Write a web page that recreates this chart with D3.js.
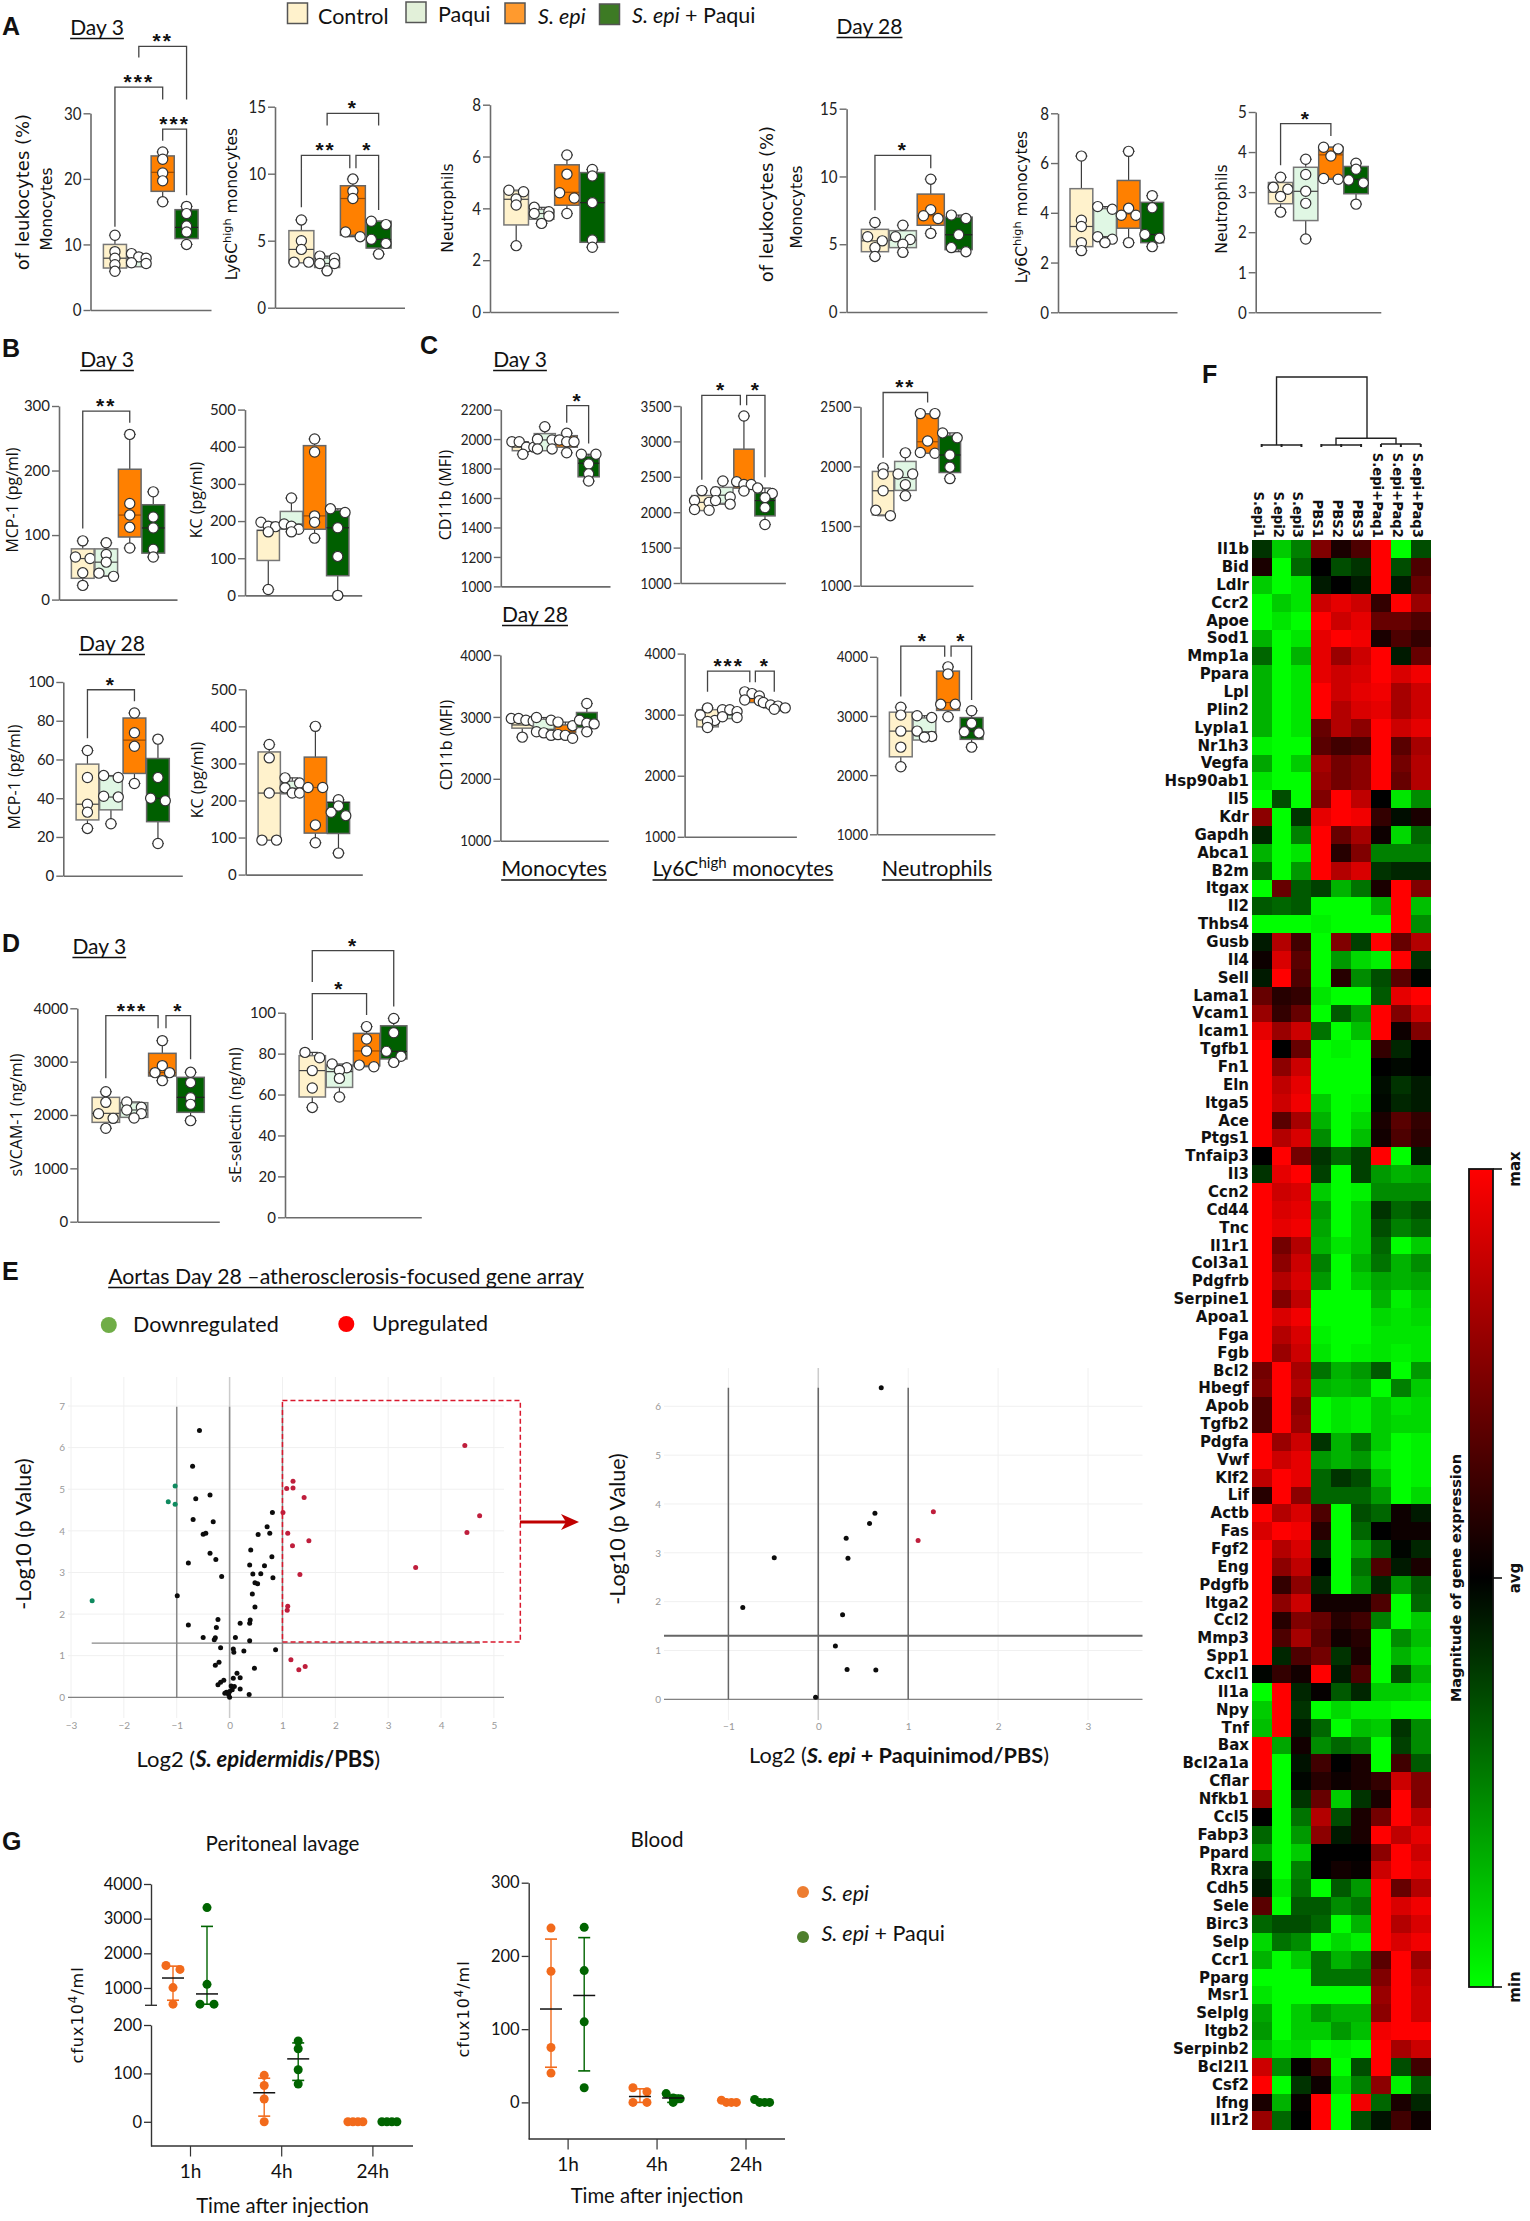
<!DOCTYPE html>
<html><head><meta charset="utf-8">
<script src="https://cdn.jsdelivr.net/npm/d3@7/dist/d3.min.js"></script>
<style>html,body{margin:0;padding:0;background:#fff}svg{display:block}</style></head>
<body><svg id="c" width="1530" height="2221" xmlns="http://www.w3.org/2000/svg"></svg>
<script>
// ---------- shared categories ----------
const groups = ["Control","Paqui","S. epi","S. epi + Paqui"];
const groupColors = ["#fff2cc","#e0f7e4","#ff8000","#005f00"];
const legendColors = ["#fff2cc","#e2f0d9","#ff9a2e","#3d7a24"];

// ---------- panel A, day 3 ----------
const aMonoD3Pts = [[11.4,8.9,7.9,6.9,5.9],[8.6,8.1,7.9,7.2,7.1],[24.1,23,20.9,19.7,16.5],[15.8,14.7,12.8,11.9,10]];
const aMonoD3Box = [[6.4,7.9,10],[6.6,7.4,8.2],[18.1,21,23.5],[10.9,12.6,15.3]];
const aLyD3Pts = [[6.55,5,4.35,3.4,3.4],[3.85,3.7,3.3,3.3,2.75],[9.6,8.7,8.15,5.65,5.3],[6.45,6.2,5.1,4.8,4]];
const aLyD3Box = [[3.35,4.35,5.75],[3,3.3,3.7],[5.4,8.15,9.1],[4.45,5.1,6.45]];
const aNeuD3Pts = [[4.7,4.64,4.36,4.13,2.56],[4.04,3.87,3.8,3.7,3.42],[6.06,5.32,4.6,4.4,3.8],[5.5,5.25,4.22,2.78,2.5]];
const aNeuD3Box = [[3.36,4.35,4.68],[3.58,3.8,3.96],[4.12,4.62,5.68],[2.69,4.22,5.38]];
// ---------- panel A, day 28 ----------
const aMonoD28Pts = [[6.6,5.55,5.25,4.75,4.1],[6.4,5.55,5.35,5,4.4],[9.8,7.55,7.1,6.9,5.8],[7.15,6.9,5.7,4.75,4.45]];
const aMonoD28Box = [[4.45,5.25,6.1],[4.75,5.3,6],[6.4,7.1,8.7],[4.6,5.7,7]];
const aLyD28Pts = [[6.28,3.7,3.45,2.8,2.48],[4.25,4.14,3.04,2.94,2.8],[6.47,4.18,3.9,3.9,2.8],[4.69,4.2,3.13,2.98,2.64]];
const aLyD28Box = [[2.64,3.45,4.97],[3.04,3.04,4.17],[3.38,3.95,5.3],[2.8,3.13,4.42]];
const aNeuD28Pts = [[3.37,3.12,3.07,2.89,2.5],[3.82,3.44,3.02,2.72,1.83],[4.12,4.08,3.9,3.34,3.32],[3.72,3.57,3.3,3.23,2.7]];
const aNeuD28Box = [[2.71,3,3.24],[2.29,3.02,3.62],[3.34,3.93,4.12],[2.96,3.32,3.64]];
// ---------- panel B ----------
const bMcpD3Pts = [[91,66,63.6,41.5,22],[88,70,58,41,36],[256,149,131,112,80],[167,128,111,78,66]];
const bMcpD3Box = [[33,63.6,78.6],[37,58,78.6],[97,131,202],[72,111,147]];
const bKcD3Pts = [[197,186,185,171,16],[262,192,186,178,171],[421,386,214,197,154],[233,223,182,105,0]];
const bKcD3Box = [[94,175,175],[178,192,226],[178,214,403],[53,182,229]];
const bMcpD28Pts = [[64.6,50.7,36.9,32.8,24.4],[51.7,50.7,41,40.6,26.8],[84,73.8,66.8,47.6],[70.5,50.7,40,38.7,16.6]];
const bMcpD28Box = [[28.8,36.9,57.6],[34,40.6,51.3],[52.8,70,81.4],[27.9,40,60.5]];
const bKcD28Pts = [[351,315,220,93,93],[261,247,234,220,220],[400,235,235,134,86],[202,185,168,159,58]];
const bKcD28Box = [[93,220,331],[218,233,252],[112,235,317],[111,195,195]];
// ---------- panel C ----------
const cMonoD3Pts = [[1982,1982,1945,1945,1897],[2084,1999,1994,1933,1933],[2040,1994,1982,1982,1907],[1897,1897,1831,1764,1715]];
const cMonoD3Box = [[1921,1945,1962],[1921,1994,2037],[1945,1965,2023],[1744,1836,1885]];
const cLyD3Pts = [[2305,2164,2139,2038,2028],[2441,2290,2215,2164,2114],[3359,2431,2391,2391,2300],[2341,2265,2205,2063,1826]];
const cLyD3Box = [[2023,2139,2235],[2124,2240,2351],[2340,2441,2890],[1948,2164,2275]];
const cNeuD3Pts = [[1988,1937,1796,1632,1587],[2114,1937,1937,1847,1754],[2443,2443,2213,2117,2111],[2281,2240,2096,1994,1898]];
const cNeuD3Box = [[1593,1796,1958],[1799,1907,2042],[2111,2207,2440],[1949,2096,2260]];
const cMonoD28Pts = [[2973,2973,2945,2933,2673],[2990,2945,2760,2742,2702],[2916,2858,2714,2702,2656],[3216,2945,2898,2887,2760]];
const cMonoD28Box = [[2818,2870,2973],[2742,2800,2962],[2742,2760,2870],[2829,2945,3071]];
const cLyD28Pts = [[3111,2994,2906,2889,2789],[3082,3082,3050,2965,2953],[3374,3345,3305,3240,3228],[3199,3158,3140,3111,3088]];
const cLyD28Box = [[2801,2936,3082],[2936,2994,3041],[3199,3287,3345],[3111,3140,3170]];
const cNeuD28Pts = [[3148,3015,2744,2473,2141],[3004,2973,2744,2654,2642],[3830,3710,3197,3197,2986],[3088,2877,2732,2714,2473]];
const cNeuD28Box = [[2310,2744,3064],[2593,2732,2967],[3094,3227,3758],[2605,2744,2973]];
// ---------- panel D ----------
const dVcamPts = [[2437,2237,2025,1937,1750],[2244,2144,2094,2025,1944],[3394,2925,2794,2794,2644],[2800,2606,2325,2200,1894]];
const dVcamBox = [[1862,2031,2331],[1956,2094,2231],[2731,2794,3156],[2050,2331,2706]];
const dSelPts = [[80.6,78,71.7,63.2,53.7],[74.9,73.1,71.8,67.9,58.8],[93.2,87.1,81.3,74.4,73.6],[97.2,90.2,81.1,78.7,75.7]];
const dSelBox = [[58.8,71.7,79],[63.5,71.2,74.4],[74,81.3,89.9],[77.4,81.1,93.6]];
// ---------- panel E ----------
const volcano1Black = [[-0.57,6.41],[-0.70,5.55],[-0.37,4.86],[-0.64,4.77],[-0.69,4.27],[-0.31,4.22],[0.81,4.44],[0.71,4.10],[0.76,3.94],[0.54,3.91],[-0.50,3.92],[-0.45,3.94],[0.40,3.54],[-0.37,3.46],[-0.26,3.31],[-0.78,3.23],[0.80,3.38],[0.38,3.18],[0.66,3.16],[0.44,2.96],[0.59,2.97],[-0.15,2.90],[0.82,2.87],[0.48,2.75],[0.53,2.73],[0.43,2.48],[-0.99,2.44],[0.48,2.17],[-0.22,1.87],[0.39,1.86],[0.38,1.78],[0.20,1.78],[-0.78,1.74],[-0.25,1.68],[-0.50,1.44],[-0.27,1.43],[-0.29,1.38],[0.11,1.44],[0.38,1.36],[-0.17,1.19],[0.07,1.16],[0.08,1.08],[0.27,1.11],[0.87,1.14],[-0.20,0.84],[-0.27,0.77],[0.47,0.70],[0.14,0.58],[0.20,0.47],[0.07,0.46],[-0.11,0.41],[-0.17,0.36],[-0.22,0.30],[0.03,0.27],[0.09,0.26],[0.05,0.18],[0.20,0.20],[-0.06,0.12],[0,0.14],[-0.09,0.10],[-0.02,0.07],[0.37,0.07],[0,0]];
const volcano1Red = [[4.45,6.05],[1.20,5.19],[1.08,5.02],[1.20,5.03],[1.41,4.80],[1.01,4.44],[4.73,4.36],[1.10,3.94],[4.49,3.96],[1.50,3.76],[1.19,3.64],[3.52,3.12],[1.33,2.95],[1.10,2.19],[1.09,2.09],[1.16,0.90],[1.43,0.74],[1.31,0.66]];
const volcano1Green = [[-1.03,5.08],[-1.16,4.70],[-1.03,4.64],[-2.60,2.32]];
const volcano2Black = [[0.70,6.38],[0.63,3.81],[0.57,3.60],[0.31,3.30],[-0.49,2.90],[0.33,2.89],[-0.84,1.88],[0.27,1.73],[0.19,1.09],[0.32,0.61],[0.64,0.60],[-0.03,0.04]];
const volcano2Red = [[1.28,3.84],[1.11,3.25]];
// ---------- panel G ----------
const times = ["1h","4h","24h"];
const gSeries = ["S. epi","S. epi + Paqui"];
const lavageSepi = [[1650,1535,1010,532],[96,75,47,0],[0,0,0,0]];
const lavageBoth = [[3320,1105,532,532],[167,151,107.6,78],[0,0,0,0]];
const lavageSepiSum = [[1287,646,1630],[60,11.7,90],null];
const lavageBothSum = [[828,532,2777],[130,85.5,163],null];
const bloodSepi = [[238,179,75,40],[20,14.5,0,0],[3,0,0,0]];
const bloodBoth = [[239,180,110,20],[12,6,5,0],[4,0,0,0]];
const bloodSepiSum = [[127.5,48,223],[8,0,18.5],null];
const bloodBothSum = [[146,43,225],[6,0,10],null];
// ---------- panel F ----------
const heatCols = ["S.epi1","S.epi2","S.epi3","PBS1","PBS2","PBS3","S.epi+Paq1","S.epi+Paq2","S.epi+Paq3"];
const heatGenes = ["Il1b","Bid","Ldlr","Ccr2","Apoe","Sod1","Mmp1a","Ppara","Lpl","Plin2","Lypla1","Nr1h3","Vegfa","Hsp90ab1","Il5","Kdr","Gapdh","Abca1","B2m","Itgax","Il2","Thbs4","Gusb","Il4","Sell","Lama1","Vcam1","Icam1","Tgfb1","Fn1","Eln","Itga5","Ace","Ptgs1","Tnfaip3","Il3","Ccn2","Cd44","Tnc","Il1r1","Col3a1","Pdgfrb","Serpine1","Apoa1","Fga","Fgb","Bcl2","Hbegf","Apob","Tgfb2","Pdgfa","Vwf","Klf2","Lif","Actb","Fas","Fgf2","Eng","Pdgfb","Itga2","Ccl2","Mmp3","Spp1","Cxcl1","Il1a","Npy","Tnf","Bax","Bcl2a1a","Cflar","Nfkb1","Ccl5","Fabp3","Ppard","Rxra","Cdh5","Sele","Birc3","Selp","Ccr1","Pparg","Msr1","Selplg","Itgb2","Serpinb2","Bcl2l1","Csf2","Ifng","Il1r2"];
const heatValues = [
[-2,-8,-5,5,1,3,10,-10,-3],[1,-10,-4,0,-3,-2,10,-3,3],[-8,-10,-9,-1,0,-1,10,-1,4],[-10,-8,-9,8,9,8,2,10,6],[-10,-9,-10,10,8,9,4,4,3],
[-7,-10,-9,9,10,9.5,1,3,2],[-4,-10,-7,9,6,8,10,-1,4],[-7,-10,-9,9,8,8.5,10,8.5,9.5],[-7,-10,-9,10,8,9,9.5,6.5,8],[-7,-10,-9,10,7,8.5,9,6.5,8],
[-7,-10,-9,4,7,5.5,10,8,9],[-9.5,-10,-10,3.5,2.5,3,10,3.5,6.5],[-6.5,-10,-8,6.5,4.5,5.5,10,4.5,7],[-9,-10,-10,6,4.5,5.5,10,4,7],[-10,-3,-10,5,10,7.5,0,-9,-5.5],
[5.5,-10,-2,9,10,9.5,2,-0.5,1],[-1.5,-10,-5,10,4,6.5,0.5,-8.5,-4],[-7,-10,-9,10,1.5,5,-5,-5,-5],[-4,-10,-6,10,7,8.5,-2,-1.5,-1.5],[-10,4,-3.5,-2.5,-7,-4.5,1,10,5],
[-3.5,-4,-3.5,-10,-10,-10,-7,10,-7.5],[-10,-10,-10,-9.5,-10,-10,-10,10,-5.5],[-1,7,2.5,-10,5,-2.5,10,4,7],[0.5,8.5,3.5,-10,-6,-8.5,-9.5,10,-2],[-1,10,3,-10,1.5,-5.5,-3,3.5,-0.2],
[4,1.5,2,-9,-10,-10,-3.5,9,10],[6,2,4,-10,-3.5,-6,10,5,8],[9,6,8,-4.5,-10,-7.5,10,0.5,5],[10,0,4,-10,-9.5,-10,2,-1.5,0],[10,5.5,8,-10,-10,-10,0,-0.3,0],
[10,7.5,9,-10,-10,-10,-0.5,-2,-1],[10,8,9.5,-8,-10,-9.5,-0.3,-1.5,-1],[10,3.5,6.5,-7,-10,-8.5,1,3.5,2],[10,7,8.5,-5.5,-10,-7.5,0.7,3,1.7],[0,10,4.5,-2,-4,-2.5,10,-10,-1],
[-2,9,10,-2.5,-10,-2.5,-6,-7,-6.5],[10,8,8.5,-8,-10,-9.5,-5.5,-5.5,-5.5],[10,8.5,9,-6,-10,-8,-2,-4,-3],[10,9,9.5,-6.5,-10,-8,-3,-5,-4],[10,4.5,7,-7,-9,-8,-4,-10,-8],
[10,5.5,8,-5,-10,-7,-4.5,-7,-5.5],[10,7,8.5,-6,-10,-8,-6.5,-7,-6.5],[10,5,7.5,-10,-10,-10,-7,-9.5,-8],[10,8.5,9.5,-10,-10,-10,-8.5,-9,-8.5],[10,7,8.5,-9.5,-10,-10,-9,-9,-9],
[10,6,8,-9,-10,-9.5,-9,-9.5,-9],[4.5,10,6.5,-4.5,-7,-6,-3.5,-10,-6],[5,10,7,-7,-7.5,-7,-10,-5,-8],[3,10,5.5,-10,-9,-9.5,-8,-9,-8.5],[3,10,6,-10,-9,-9.5,-8,-8.5,-8.5],
[10,6,8,-2,-7,-4.5,-8,-10,-9.5],[10,8,9,-6,-7,-6,-9,-10,-9.5],[7.5,10,9,-4,-2,-3,-7.5,-10,-9.5],[1.5,10,5.5,-4,-4,-4,-6,-10,-8.5],[10,7,8.5,3,-10,-3,-4,0.5,-1],
[8.5,10,9.5,1.5,-10,-4,0,0.5,0.5],[10,7,8.5,-2,-10,-6.5,-3.5,-0.2,-1.5],[10,5.5,7.5,0,-10,-4.5,3,-1,1],[10,2,5.5,-1.5,-10,-5.5,-1.5,-6,-3.5],[10,5.5,8,0.7,0.7,0.7,3,-10,-4],
[10,1.5,5,4,1.5,2.5,-5,-10,-8],[10,3,6.5,3.5,0.7,1.5,-10,-5.5,-7.5],[10,-1.5,3,4.5,-2,1,-10,-7,-8.5],[-0.2,2,0.7,10,-1,3,-10,-3,-7],[-10,10,-1.5,0.2,-3.5,-1.5,-8,-8,-8.5],
[-8,10,-2,-10,-8.5,-9.5,-9.5,-10,-10],[-7.5,10,-1,-4,-10,-7.5,-8,-2,-5.5],[10,-6.5,0.7,-5.5,-4,-5,-10,-2.5,-5.5],[10,-10,-0.7,2.5,0,1,-10,2.5,-3.5],[10,-10,-0.2,1.5,0.5,1,2,8,5],
[6,-10,-2,4,-8,-2,1,10,5],[0,-10,-4.5,7,-3,1,4.5,10,7.5],[-4,-10,-6,5.5,-1,1,10,7.5,9],[-6,-10,-8,0,0,0,5.5,10,8],[-2,-10,-5,0,0.7,0.3,8,10,9],
[-1,-9,-4.5,-10,-3.5,-6,10,4,7],[3.5,-10,-3.5,-3.5,-5.5,-4.5,10,8.5,9.5],[-4,-3,-3,-4,-10,-7,10,7,8.5],[-8.5,-4.5,-5.5,-10,-8.5,-9.5,10,8.5,9.5],[-7,-10,-8,-4.5,-7,-5.5,3.5,10,6],
[-10,-10,-10,-4.5,-4.5,-4.5,5,10,7.5],[-9,-10,-10,-10,-10,-10,6,10,8],[-6.5,-10,-8,-6,-7,-7,5.5,10,8],[-6,-10,-8,-8,-6,-7.5,9.5,10,10],[-7.5,-9,-8.5,-10,-9.5,-10,10,6.5,8],
[8,-5.5,0.2,3,-10,-3,10,-3,2.5],[10,-10,-2,0.5,-8.5,-5,5.5,-9.5,-3.5],[1,-7,0.3,10,-10,9.5,-4,1,-1.5],[6,-4,0,10,-10,-3,-0.7,2.5,0.5]];

// ---------- layout (frame: axis x, x-axis end, bottom px, top px; boxes: left, right) ----------
const LATO = "Lato,sans-serif", OPEN = "'Open Sans',sans-serif", DEJA = "'DejaVu Sans',sans-serif";
const panels = [
 {pts:aMonoD3Pts,box:aMonoD3Box,ax:90.5,end:211,y0:310,y1:113.3,dom:[0,30],ticks:[0,10,20,30],bx:[103,198.5],sq:.84,fs:18,
  br:[[0,2,34,12.7,32.1,"***"],[2,3,27.6,25.8,17.5,"***"],[1,3,40.2,38.5,32.1,"**"]]},
 {pts:aLyD3Pts,box:aLyD3Box,ax:275,end:404.5,y0:307.7,y1:106.7,dom:[0,15],ticks:[0,5,10,15],bx:[288.5,391.5],sq:.84,fs:18,
  br:[[0,1.88,11.37,7.5,10.4,"**"],[2.12,3,11.37,10.4,7.3,"*"],[1,3,14.5,13.6,13.6,"*"]]},
 {pts:aNeuD3Pts,box:aNeuD3Box,ax:490,end:618.4,y0:312,y1:104.7,dom:[0,8],ticks:[0,2,4,6,8],bx:[503.5,605],sq:.84,fs:18,br:[]},
 {pts:aMonoD28Pts,box:aMonoD28Box,ax:846.6,end:987,y0:312,y1:108.7,dom:[0,15],ticks:[0,5,10,15],bx:[861,972.6],sq:.84,fs:18,
  br:[[0,2,11.55,7.5,10.6,"*"]]},
 {pts:aLyD28Pts,box:aLyD28Box,ax:1058,end:1177,y0:312.3,y1:113.3,dom:[0,8],ticks:[0,2,4,6,8],bx:[1069.6,1164],sq:.84,fs:18,br:[]},
 {pts:aNeuD28Pts,box:aNeuD28Box,ax:1255.7,end:1380.8,y0:312.3,y1:112,dom:[0,5],ticks:[0,1,2,3,4,5],bx:[1268,1368.6],sq:.84,fs:18,
  br:[[0,2,4.71,3.67,4.4,"*"]]},
 {pts:bMcpD3Pts,box:bMcpD3Box,ax:59,end:177,y0:599.6,y1:406,dom:[0,300],ticks:[0,100,200,300],bx:[71,165],fs:15,
  br:[[0,2,292,110,274,"**"]]},
 {pts:bKcD3Pts,box:bKcD3Box,ax:245,end:361.7,y0:595.4,y1:409.6,dom:[0,500],ticks:[0,100,200,300,400,500],bx:[256.7,349.3],fs:15,br:[]},
 {pts:bMcpD28Pts,box:bMcpD28Box,ax:63.3,end:182.3,y0:875.7,y1:682,dom:[0,100],ticks:[0,20,40,60,80,100],bx:[75.7,169.7],fs:15,
  br:[[0,2,96,71,90,"*"]]},
 {pts:bKcD28Pts,box:bKcD28Box,ax:245.7,end:362.3,y0:874.6,y1:689.3,dom:[0,500],ticks:[0,100,200,300,400,500],bx:[257.7,350],fs:15,br:[]},
 {pts:cMonoD3Pts,box:cMonoD3Box,ax:500.8,end:610,y0:586.4,y1:409.6,dom:[1000,2200],ticks:[1000,1200,1400,1600,1800,2000,2200],bx:[511.9,599.6],sq:.84,fs:16,
  br:[[2,3,2227,2110,1970,"*"]]},
 {pts:cLyD3Pts,box:cLyD3Box,ax:680.6,end:785.4,y0:583,y1:406,dom:[1000,3500],ticks:[1000,1500,2000,2500,3000,3500],bx:[691.3,775.5],sq:.84,fs:16,
  br:[[0,1.83,3651,2457,3510,"*"],[2.13,3,3651,3510,2492,"*"]]},
 {pts:cNeuD3Pts,box:cNeuD3Box,ax:860.5,end:973,y0:585.7,y1:406.8,dom:[1000,2500],ticks:[1000,1500,2000,2500],bx:[872,961],sq:.84,fs:16,
  br:[[0,2,2620,2072,2536,"**"]]},
 {pts:cMonoD28Pts,box:cMonoD28Box,ax:500.4,end:608.3,y0:840.7,y1:655,dom:[1000,4000],ticks:[1000,2000,3000,4000],bx:[511.5,597.6],sq:.84,fs:16,br:[]},
 {pts:cLyD28Pts,box:cLyD28Box,ax:684.6,end:796.4,y0:836.8,y1:653.6,dom:[1000,4000],ticks:[1000,2000,3000,4000],bx:[696.4,785.4],sq:.84,fs:16,
  br:[[0,1.9,3713,3374,3532,"***"],[2.15,3,3713,3532,3374,"*"]]},
 {pts:cNeuD28Pts,box:cNeuD28Box,ax:877,end:994.9,y0:834.3,y1:656.8,dom:[1000,4000],ticks:[1000,2000,3000,4000],bx:[889,983.4],sq:.84,fs:16,
  br:[[0,1.86,4180,3330,4000,"*"],[2.13,3,4180,4000,3269,"*"]]},
 {pts:dVcamPts,box:dVcamBox,ax:77.3,end:219.3,y0:1221.7,y1:1008.3,dom:[0,4000],ticks:[0,1000,2000,3000,4000],bx:[91.7,204.7],fs:15,
  br:[[0,1.85,3862,2687,3625,"***"],[2.13,3,3862,3625,3044,"*"]]},
 {pts:dSelPts,box:dSelBox,ax:285,end:421.3,y0:1217.3,y1:1012.7,dom:[0,100],ticks:[0,20,40,60,80,100],bx:[298.7,407.3],fs:15,
  br:[[0,2,109.3,86.6,98.9,"*"],[0,3,130.3,115,103,"*"]]}
];

const svg = d3.select("#c");
const grey = "#6b6b6b";
function txt(x,y,s,o={}){
  const t = svg.append("text").attr("x",x).attr("y",y).text(s)
    .attr("font-family",o.font||LATO).attr("font-size",o.size||16).attr("fill",o.fill||"#111")
    .attr("text-anchor",o.anchor||"start");
  if(o.weight) t.attr("font-weight",o.weight);
  if(o.italic) t.attr("font-style","italic");
  if(o.rot) t.attr("transform",`rotate(${o.rot} ${x} ${y})`);
  if(o.ls) t.attr("letter-spacing",o.ls);
  return t;
}
function rich(x,y,parts,o={}){
  const t = txt(x,y,"",o);
  parts.forEach(p=>{
    const s = t.append("tspan").text(p.t);
    if(p.italic) s.attr("font-style","italic");
    if(p.bold) s.attr("font-weight","bold");
    if(p.sup) s.attr("dy",-o.size*0.38).attr("font-size",o.size*0.72);
    if(p.down) s.attr("dy",o.size*0.38*(1));
  });
  return t;
}
function underlined(cx,y,s,o={}){
  const t = txt(cx,y,s,{anchor:"middle",...o});
  const w = t.node().getComputedTextLength();
  svg.append("line").attr("x1",cx-w/2).attr("x2",cx+w/2).attr("y1",y+(o.ul||3.5)).attr("y2",y+(o.ul||3.5)).attr("stroke","#111").attr("stroke-width",1.3);
}
function swarmX(vals,y,gap){
  const order = vals.map((v,i)=>i).sort((a,b)=>vals[b]-vals[a]);
  const out = new Array(vals.length).fill(0);
  let i=0;
  while(i<order.length){
    let j=i+1; const first=y(vals[order[i]]);
    while(j<order.length && Math.abs(y(vals[order[j]])-first)<5.5) j++;
    const n=j-i;
    for(let k=0;k<n;k++) out[order[i+k]] = (k-(n-1)/2)*gap*(n===2?2:1);
    i=j;
  }
  return out;
}
function drawPanel(p){
  const g = svg.append("g");
  const y = d3.scaleLinear().domain(p.dom).range([p.y0,p.y1]);
  const x = d3.scaleBand().domain(groups).range(p.bx).padding(0);
  const xEnd = d3.scaleLinear().domain([0,1]).range([p.ax,p.end]);
  const xa = g.append("g").attr("transform",`translate(0,${p.y0})`).call(d3.axisBottom(xEnd).tickValues([]).tickSizeOuter(0));
  xa.select(".domain").attr("stroke",grey).attr("stroke-width",1.6);
  const ya = g.append("g").attr("transform",`translate(${p.ax},0)`).call(d3.axisLeft(y).tickValues(p.ticks).tickSize(7).tickSizeOuter(0).tickPadding(2).tickFormat(d3.format("d")));
  ya.select(".domain").attr("stroke",grey).attr("stroke-width",1.6);
  ya.selectAll(".tick line").attr("stroke",grey).attr("stroke-width",1.4);
  ya.selectAll(".tick text").attr("font-family",LATO).attr("font-size",p.fs).attr("fill","#222");
  if(p.sq) ya.selectAll(".tick text").each(function(){
    const t=d3.select(this); t.attr("textLength",this.getComputedTextLength()*p.sq).attr("lengthAdjust","spacingAndGlyphs");
  });
  const bw = x.bandwidth();
  const cx = i=>x(groups[i])+bw/2;
  groups.forEach((gn,i)=>{
    const pts = p.pts[i], [q1,med,q3] = p.box[i];
    const c = cx(i), lo=d3.min(pts), hi=d3.max(pts);
    const s = g.append("g").attr("stroke","#3d3d3d").attr("stroke-width",1.2);
    s.append("line").attr("x1",c).attr("x2",c).attr("y1",y(lo)).attr("y2",y(hi));
    [lo,hi].forEach(v=>s.append("line").attr("x1",c-6).attr("x2",c+6).attr("y1",y(v)).attr("y2",y(v)));
    s.append("rect").attr("x",x(gn)+.4).attr("width",bw-.8).attr("y",y(q3)).attr("height",y(q1)-y(q3))
      .attr("fill",groupColors[i]).attr("stroke",i<2?"#777":"#666").attr("stroke-width",1.5);
    s.append("line").attr("x1",x(gn)+.4).attr("x2",x(gn)+bw-.4).attr("y1",y(med)).attr("y2",y(med)).attr("stroke",i===2?"#9a4a00":i===3?"#222":"#444");
    const off = swarmX(pts,y,7.3);
    g.selectAll(null).data(pts).join("circle").attr("cx",(d,k)=>c+off[k]).attr("cy",d=>y(d)).attr("r",5.1)
      .attr("fill","#fff").attr("stroke","#333").attr("stroke-width",1.2);
  });
  p.br.forEach(([a,b,top,ea,eb,lab])=>{
    const xa2=cx(0)+a*(cx(1)-cx(0)), xb2=cx(0)+b*(cx(1)-cx(0));
    g.append("path").attr("fill","none").attr("stroke","#444").attr("stroke-width",1.3)
      .attr("d",d3.line()([[xa2,y(ea)],[xa2,y(top)],[xb2,y(top)],[xb2,y(eb)]]));
    g.append("text").attr("x",(xa2+xb2)/2).attr("y",y(top)+2).attr("text-anchor","middle")
      .attr("font-family","'Liberation Sans',sans-serif").attr("font-weight","bold").attr("font-size",21).attr("letter-spacing",2).attr("fill","#111").text(lab);
  });
}
panels.forEach(drawPanel);

// ---- panel letters ----
[["A",2,35],["B",2,357],["C",420,354],["D",2,952],["E",2,1280],["F",1202,383],["G",2,1850]].forEach(([s,x,y])=>txt(x,y,s,{font:"'Liberation Sans',sans-serif",weight:"bold",size:25}));

// ---- legend ----
const legendLayout=[[287.5,3,318,18],[406,2,438,16],[505,3,538,18],[599.5,4,632,17]];
groups.forEach((g,i)=>{
  const [bx,by,tx,ty]=legendLayout[i];
  svg.append("rect").attr("x",bx).attr("y",by).attr("width",20).attr("height",20.5).attr("fill",legendColors[i]).attr("stroke","#555").attr("stroke-width",1.5);
  rich(tx,ty+6,i===2?[{t:"S. epi",italic:true}]:i===3?[{t:"S. epi",italic:true},{t:" + Paqui"}]:[{t:g}],{font:LATO,size:21.5});
});

// ---- day labels ----
[[97,35,"Day 3",21],[869.5,34,"Day 28",21],[107,367,"Day 3",21],[112,651,"Day 28",21],[520,367,"Day 3",21],[535,622,"Day 28",21],[99.3,954,"Day 3",21]]
 .forEach(([x,y,s,z])=>underlined(x,y,s,{font:LATO,size:z}));

// ---- y labels ----
const yl=(x,y,parts,o)=>rich(x,y,parts,{rot:-90,anchor:"middle",...o});
const ly6=[{t:"Ly6C"},{t:"high",sup:true},{t:" monocytes",down:true}];
yl(29,192,[{t:"of leukocytes (%)"}],{font:DEJA,size:18});
yl(52,209,[{t:"Monocytes"}],{font:DEJA,size:15.4});
yl(237,204,ly6,{font:DEJA,size:15.6});
yl(453,208,[{t:"Neutrophils"}],{font:DEJA,size:15.6});
yl(773,204,[{t:"of leukocytes (%)"}],{font:DEJA,size:18});
yl(802,207,[{t:"Monocytes"}],{font:DEJA,size:15.4});
yl(1027,207,ly6,{font:DEJA,size:15.6});
yl(1227,209,[{t:"Neutrophils"}],{font:DEJA,size:15.6});
[[18,500,"MCP-1 (pg/ml)"],[202,500,"KC (pg/ml)"],[20,777,"MCP-1 (pg/ml)"],[203,780,"KC (pg/ml)"],[451,495,"CD11b (MFI)"],[452,745,"CD11b (MFI)"],[22,1115,"sVCAM-1 (ng/ml)"],[241,1115,"sE-selectin (ng/ml)"]]
 .forEach(([x,y,s])=>yl(x,y,[{t:s}],{font:OPEN,size:16}));

// ---- bottom row labels of C ----
underlined(554,876,"Monocytes",{font:LATO,size:21.5,ul:4});
{ const t=rich(743,876,[{t:"Ly6C"},{t:"high",sup:true},{t:" monocytes",down:true}],{font:LATO,size:21,anchor:"middle"});
  const w=t.node().getComputedTextLength();
  svg.append("line").attr("x1",743-w/2).attr("x2",743+w/2).attr("y1",880).attr("y2",880).attr("stroke","#111").attr("stroke-width",1.3);}
underlined(937,876,"Neutrophils",{font:LATO,size:21.5,ul:4});

// ---- panel E ----
underlined(346,1284,"Aortas Day 28 –atherosclerosis-focused gene array",{font:LATO,size:21.3});
svg.append("circle").attr("cx",108.8).attr("cy",1325).attr("r",8).attr("fill","#70ad47");
txt(133,1332,"Downregulated",{size:21.5});
svg.append("circle").attr("cx",346.3).attr("cy",1324).attr("r",8).attr("fill","#ff0000");
txt(372,1331,"Upregulated",{size:21.5});

function volcano(c){
  const g=svg.append("g");
  const x=d3.scaleLinear().domain(c.xd).range(c.xr), y=d3.scaleLinear().domain(c.yd).range(c.yr);
  const grid=g.append("g").attr("stroke","#f0f0f0").attr("stroke-width",1);
  c.xt.forEach(v=>grid.append("line").attr("x1",x(v)).attr("x2",x(v)).attr("y1",c.top).attr("y2",c.bot));
  c.yt.forEach(v=>grid.append("line").attr("x1",c.left).attr("x2",c.right).attr("y1",y(v)).attr("y2",y(v)));
  const ax=g.append("g").attr("transform",`translate(0,${c.tickY})`).call(d3.axisBottom(x).tickValues(c.xt).tickSize(0).tickFormat(d=>d<0?"−"+(-d):d));
  ax.select(".domain").remove();
  ax.selectAll("text").attr("font-family",LATO).attr("font-size",10).attr("fill","#999");
  const ay=g.append("g").attr("transform",`translate(${c.tickX},0)`).call(d3.axisLeft(y).tickValues(c.yt).tickSize(0).tickFormat(d3.format("d")));
  ay.select(".domain").remove();
  ay.selectAll("text").attr("font-family",LATO).attr("font-size",10).attr("fill","#999");
  g.append("line").attr("x1",x(0)).attr("x2",x(0)).attr("y1",c.top).attr("y2",c.bot).attr("stroke","#ccc").attr("stroke-width",1.5);
  [-1,0,1].forEach(v=>g.append("line").attr("x1",x(v)).attr("x2",x(v)).attr("y1",y(c.vtop)).attr("y2",y(0)).attr("stroke",c.lineC).attr("stroke-width",1.5));
  g.append("line").attr("x1",c.hl[0]).attr("x2",c.hl[1]).attr("y1",y(1.3)).attr("y2",y(1.3)).attr("stroke",c.lineC).attr("stroke-width",c.hw);
  g.append("line").attr("x1",c.left).attr("x2",c.right).attr("y1",y(0)).attr("y2",y(0)).attr("stroke","#666").attr("stroke-width",1);
  const pts=(arr,col)=>g.selectAll(null).data(arr).join("circle").attr("cx",d=>x(d[0])).attr("cy",d=>y(d[1])).attr("r",2.5).attr("fill",col);
  pts(c.black,"#0c0c0c"); pts(c.red,"#bf1e3c"); if(c.green) pts(c.green,"#0f8a5f");
  return {x,y};
}
const v1=volcano({xd:[-3,5],xr:[71,493.9],yd:[0,7],yr:[1697.3,1406],xt:[-3,-2,-1,0,1,2,3,4,5],yt:[0,1,2,3,4,5,6,7],left:68,right:504,top:1377,bot:1718,tickY:1719,tickX:68,vtop:6.98,hl:[91.7,480],hw:1.2,lineC:"#888",black:volcano1Black,red:volcano1Red,green:volcano1Green});
const dashPts=[[1,7.13],[5.5,7.13],[5.5,1.33],[1,1.33],[1,7.13]].map(([a,b])=>[v1.x(a),v1.y(b)]);
svg.append("path").attr("d",d3.line()(dashPts)).attr("fill","none").attr("stroke","#d9182d").attr("stroke-width",1.5).attr("stroke-dasharray","5,3");
svg.append("path").attr("d","M520 1522H572").attr("stroke","#c00000").attr("stroke-width",2.8).attr("fill","none");
svg.append("path").attr("d","M579 1522L561 1514L566 1522L561 1530Z").attr("fill","#c00000");
volcano({xd:[-1,3],xr:[728.4,1088],yd:[0,6],yr:[1699.3,1406.3],xt:[-1,0,1,2,3],yt:[0,1,2,3,4,5,6],left:664,right:1142.5,top:1368,bot:1720,tickY:1720,tickX:664,vtop:6.38,hl:[664,1142.5],hw:2,lineC:"#666",black:volcano2Black,red:volcano2Red});
yl(31,1534,[{t:"-Log10 (p Value)"}],{font:LATO,size:21.5});
yl(625,1529,[{t:"-Log10 (p Value)"}],{font:LATO,size:21.5});
rich(258.4,1767,[{t:"Log2 ("},{t:"S. epidermidis",italic:true,bold:true},{t:"/PBS",bold:true},{t:")"}],{size:22,anchor:"middle"});
rich(899,1762.7,[{t:"Log2 ("},{t:"S. epi",italic:true,bold:true},{t:" + Paquinimod/PBS",bold:true},{t:")"}],{size:21.7,anchor:"middle"});

// ---- panel G ----
const orange="#f26a1b", dgreen="#006400";
function dotPlot(c){
  const g=svg.append("g");
  const x=d3.scalePoint().domain(times).range(c.xr);
  const axX=g.append("g").attr("transform",`translate(0,${c.base})`).call(d3.axisBottom(x).tickSize(10.5).tickSizeOuter(0).tickPadding(8));
  axX.select(".domain").remove();
  g.append("line").attr("x1",c.ax).attr("x2",c.end).attr("y1",c.base).attr("y2",c.base).attr("stroke","#333").attr("stroke-width",1.4);
  axX.selectAll(".tick line").attr("stroke","#333").attr("stroke-width",1.2);
  axX.selectAll("text").attr("font-family",LATO).attr("font-size",19).attr("fill","#111");
  c.axes.forEach(a=>{
    const ya=g.append("g").attr("transform",`translate(${c.ax},0)`).call(d3.axisLeft(a.scale).tickValues(a.ticks).tickSize(7).tickSizeOuter(0).tickPadding(2).tickFormat(d3.format("d")));
    ya.select(".domain").attr("stroke","#333").attr("stroke-width",1.4);
    ya.selectAll(".tick line").attr("stroke","#333").attr("stroke-width",1.3);
    ya.selectAll("text").attr("font-family",LATO).attr("font-size",16.5).attr("fill","#111");
    if(a.stub) g.append("line").attr("x1",c.ax-6).attr("x2",c.ax+6).attr("y1",a.scale(a.stub)).attr("y2",a.scale(a.stub)).attr("stroke","#333").attr("stroke-width",1.4);
  });
  c.series.forEach((s,si)=>{
    const col=si?dgreen:orange, sign=si?1:-1;
    times.forEach((t,ti)=>{
      const cx=x(t)+sign*c.off, vals=s.pts[ti], y=c.yf(ti), sum=s.sum[ti];
      if(sum){
        const [m,lo,hi]=sum;
        g.append("line").attr("x1",cx).attr("x2",cx).attr("y1",y(lo)).attr("y2",y(hi)).attr("stroke",col).attr("stroke-width",1.4);
        [lo,hi].forEach(v=>g.append("line").attr("x1",cx-6).attr("x2",cx+6).attr("y1",y(v)).attr("y2",y(v)).attr("stroke",col).attr("stroke-width",1.6));
      }
      const off=swarmX(vals,y,t==="24h"?5:c.gap);
      g.selectAll(null).data(vals).join("circle").attr("cx",(d,k)=>cx+off[k]).attr("cy",d=>y(d)).attr("r",4.5).attr("fill",col);
      if(sum) g.append("line").attr("x1",cx-11).attr("x2",cx+11).attr("y1",y(sum[0])).attr("y2",y(sum[0])).attr("stroke","#111").attr("stroke-width",1.5);
    });
  });
}
const lavUp=d3.scaleLinear().domain([500,4000]).range([2005.3,1884]);
const lavLo=d3.scaleLinear().domain([-50,200]).range([2146,2025]);
dotPlot({ax:151,end:413,base:2146,xr:[190,372.4],off:17,gap:7,
  axes:[{scale:lavUp,ticks:[1000,2000,3000,4000],stub:500},{scale:lavLo,ticks:[0,100,200]}],
  yf:ti=>ti===0?lavUp:lavLo,
  series:[{pts:lavageSepi,sum:lavageSepiSum},{pts:lavageBoth,sum:lavageBothSum}]});
const bloodY=d3.scaleLinear().domain([-50,300]).range([2139,1882.7]);
dotPlot({ax:528.7,end:785,base:2139,xr:[567.6,745.5],off:16.6,gap:7,
  axes:[{scale:bloodY,ticks:[0,100,200,300]}],
  yf:()=>bloodY,
  series:[{pts:bloodSepi,sum:bloodSepiSum},{pts:bloodBoth,sum:bloodBothSum}]});
txt(282.5,1851,"Peritoneal lavage",{anchor:"middle",size:20.6});
txt(657,1847,"Blood",{anchor:"middle",size:20.6});
txt(282.5,2213,"Time after injection",{anchor:"middle",size:20.3});
txt(657,2203,"Time after injection",{anchor:"middle",size:20.3});
const cfu=[{t:"cfux10"},{t:"4",sup:true},{t:"/ml",down:true}];
yl(83,2015,cfu,{font:DEJA,size:16,ls:1});
yl(469,2009,cfu,{font:DEJA,size:16,ls:1});
svg.append("circle").attr("cx",803).attr("cy",1892).attr("r",6).attr("fill","#ed7d31");
txt(821.4,1901,"S. epi",{italic:true,size:21.5});
svg.append("circle").attr("cx",803).attr("cy",1937).attr("r",6).attr("fill","#4f7f2d");
rich(821.4,1941,[{t:"S. epi",italic:true},{t:" + Paqui"}],{size:21.5});

// ---- panel F ----
const heatColor=d3.scaleLinear().domain([-10,0,10]).range(["#00ff00","#000000","#ff0000"]);
const hx=d3.scaleBand().domain(heatCols).range([1251.7,1430.7]);
const hy=d3.scaleBand().domain(heatGenes).range([540.3,2129.3]);
const hg=svg.append("g").attr("shape-rendering","crispEdges");
heatGenes.forEach((gene,r)=>{
  hg.selectAll(null).data(heatValues[r]).join("rect")
    .attr("x",(d,c)=>hx(heatCols[c])).attr("y",hy(gene)).attr("width",hx.bandwidth()+.5).attr("height",hy.bandwidth()+.5).attr("fill",d=>heatColor(d));
  txt(1249,hy(gene)+hy.bandwidth()/2+5,gene,{font:DEJA,weight:"bold",size:15,anchor:"end"});
});
heatCols.forEach(c=>{
  const x=hx(c)+hx.bandwidth()/2-8;
  txt(x,538,c,{font:DEJA,weight:"bold",size:13.2,anchor:"end",rot:90});
});
// dendrogram
const link=(pts,w)=>svg.append("path").attr("d",d3.line()(pts)).attr("fill","none").attr("stroke","#222").attr("stroke-width",w||1.4);
const colC=i=>hx(heatCols[i])+hx.bandwidth()/2;
link([[colC(0),445],[colC(2),445]],1.6);
link([[colC(3),445],[colC(5),445]],1.6);
link([[colC(6),444],[colC(8),444]],1.6);
link([[colC(1)-5,445],[colC(1)-5,377],[1367,377],[1367,438.3]],1.4);
link([[1336,445],[1336,438.3],[1396,438.3],[1396,444]],1.4);
heatCols.forEach((c,i)=>svg.append("rect").attr("x",colC(i)-1).attr("y",444).attr("width",2).attr("height",3).attr("fill","#222"));
// colour bar
const cbar=d3.scaleLinear().domain([-10,10]).range([1987,1169]);
const defs=svg.append("defs");
const lg=defs.append("linearGradient").attr("id","cb").attr("x1",0).attr("x2",0).attr("y1",1).attr("y2",0);
[-10,0,10].forEach(v=>lg.append("stop").attr("offset",(v+10)/20).attr("stop-color",heatColor(v)));
svg.append("rect").attr("x",1469).attr("y",cbar(10)).attr("width",24).attr("height",cbar(-10)-cbar(10)).attr("fill","url(#cb)").attr("stroke","#111").attr("stroke-width",1.8);
[[10,"max"],[0,"avg"],[-10,"min"]].forEach(([v,s])=>{
  svg.append("line").attr("x1",1493).attr("x2",1502).attr("y1",cbar(v)).attr("y2",cbar(v)).attr("stroke","#111").attr("stroke-width",1.6);
  txt(1520,cbar(v),s,{font:DEJA,weight:"bold",size:15,anchor:"middle",rot:-90});
});
txt(1461,1578,"Magnitude of gene expression",{font:DEJA,weight:"bold",size:14.5,anchor:"middle",rot:-90});
</script></body></html>
